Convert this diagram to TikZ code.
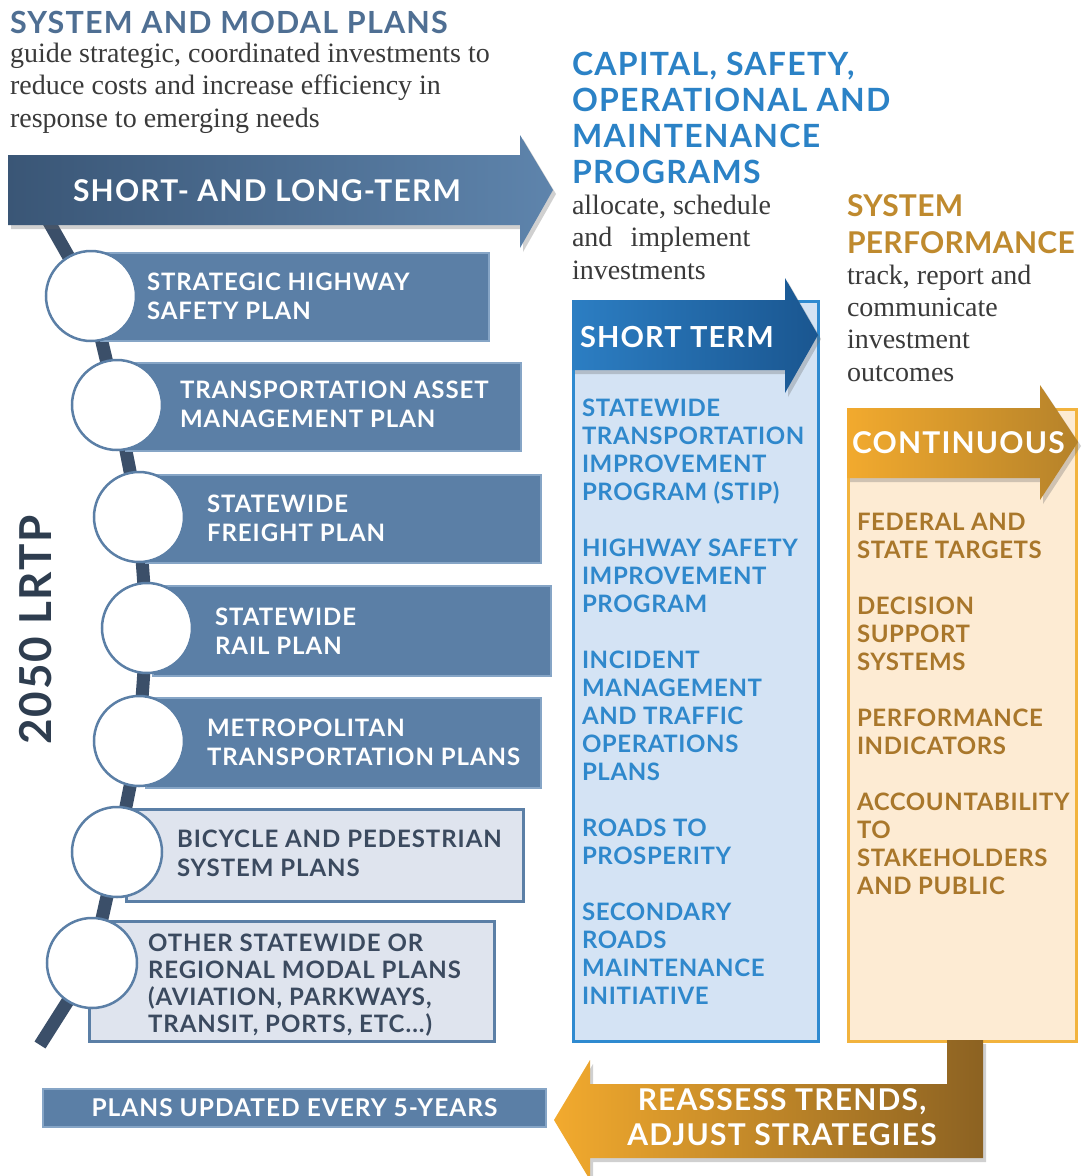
\documentclass[tikz,border=0pt]{standalone}
\usepackage{fontspec}
\setmainfont{Liberation Serif}
\newfontfamily\hdfont[LetterSpace=4]{Lato}
\newfontfamily\lsfont[LetterSpace=2.5]{Lato}
\newfontfamily\tightfont[LetterSpace=1]{Lato}
\usetikzlibrary{shadows}

\definecolor{slate}{HTML}{4F6F93}
\definecolor{bartxt}{HTML}{3B4A5F}
\definecolor{barfill}{HTML}{5B7FA6}
\definecolor{barline}{HTML}{86A5C6}
\definecolor{lightbar}{HTML}{DFE4EE}
\definecolor{timeline}{HTML}{3B4F69}
\definecolor{arrowdark}{HTML}{3A5676}
\definecolor{arrowlight}{HTML}{5E84AC}
\definecolor{capblue}{HTML}{2B82C6}
\definecolor{listblue}{HTML}{2F88CC}
\definecolor{bluebox}{HTML}{D4E3F4}
\definecolor{blueline}{HTML}{2F8AD0}
\definecolor{stleft}{HTML}{2C7EC3}
\definecolor{stright}{HTML}{1A5690}
\definecolor{goldtitle}{HTML}{BF8A2E}
\definecolor{goldtext}{HTML}{A9772B}
\definecolor{goldbox}{HTML}{FDEBD3}
\definecolor{goldline}{HTML}{F2B33D}
\definecolor{orleft}{HTML}{F2AA2E}
\definecolor{orright}{HTML}{B5822A}
\definecolor{brownend}{HTML}{8C6222}
\definecolor{bodytext}{HTML}{3A3A3A}
\definecolor{lrtpcol}{HTML}{2E3D4F}

\newcommand\fTitle{\hdfont\bfseries\fontsize{32}{36}\selectfont}
\newcommand\fBody{\fontsize{28}{32.3}\selectfont}
\newcommand\fBar{\hdfont\bfseries\fontsize{24}{29}\selectfont}
\newcommand\fList{\lsfont\bfseries\fontsize{24}{28}\selectfont}
\newcommand\fArrow{\hdfont\bfseries\fontsize{30}{35}\selectfont}

% multi-line text nodes are anchored on the baseline of their last line
\tikzset{
  txt/.style={inner sep=0pt, outer sep=0pt, anchor=base west, align=left},
  barbox/.style={draw=barline, fill=barfill, line width=2pt, inner sep=0pt, anchor=north west},
  lightbox/.style={draw=barfill, fill=lightbar, line width=2.5pt, inner sep=0pt, anchor=north west},
  ring/.style={circle, draw=barfill, fill=white, line width=2.5pt, minimum size=90pt, inner sep=0pt},
  shad/.style={drop shadow={opacity=0.3, shadow xshift=3pt, shadow yshift=-4pt, fill=black!60}},
}

\begin{document}
\begin{tikzpicture}[x=1pt,y=-1pt]
\useasboundingbox[fill=white] (0,0) rectangle (1083,1176);

% ---------- left column: system and modal plans ----------
\node[txt, text=slate, font=\hdfont\bfseries\fontsize{30.5}{36}\selectfont] (sysT) at (10,33) {SYSTEM AND MODAL PLANS};
\node[txt, text=bodytext, font=\fBody] (sysB) at (10,127)
  {guide strategic, coordinated investments to\\reduce costs and increase efficiency in\\response to emerging needs};

% timeline points
\coordinate (tlstart) at (45,215);
\coordinate (p1) at (91,296);
\coordinate (p2) at (117,405);
\coordinate (p3) at (139,517);
\coordinate (p4) at (147,628);
\coordinate (p5) at (139,741);
\coordinate (p6) at (117,852);
\coordinate (p7) at (92,963);
\coordinate (tlend) at (40,1045);
\draw[timeline, line width=13pt] (tlstart) -- (p1) -- (p2) -- (p3) -- (p4) -- (p5) -- (p6) -- (p7) -- (tlend);

% plan bars
\node[barbox, minimum width=388pt, minimum height=88pt] (b1) at (100,252) {};
\node[barbox, minimum width=395pt, minimum height=88pt] (b2) at (125,362) {};
\node[barbox, minimum width=395pt, minimum height=88pt] (b3) at (145,474) {};
\node[barbox, minimum width=398pt, minimum height=90pt] (b4) at (152,585) {};
\node[barbox, minimum width=395pt, minimum height=90pt] (b5) at (145,697) {};
\node[lightbox, minimum width=397pt, minimum height=92pt] (b6) at (125,808) {};
\node[lightbox, minimum width=405pt, minimum height=120pt] (b7) at (88,920) {};

\foreach \i in {1,...,7} { \node[ring] (c\i) at (p\i) {}; }

\node[txt, text=white, font=\fBar] (t1) at (147,319) {STRATEGIC HIGHWAY\\SAFETY PLAN};
\node[txt, text=white, font=\fBar] (t2) at (180,427) {TRANSPORTATION ASSET\\MANAGEMENT PLAN};
\node[txt, text=white, font=\fBar] (t3) at (207,541) {STATEWIDE\\FREIGHT PLAN};
\node[txt, text=white, font=\fBar] (t4) at (215,654) {STATEWIDE\\RAIL PLAN};
\node[txt, text=white, font=\fBar] (t5) at (207,765) {METROPOLITAN\\TRANSPORTATION PLANS};
\node[txt, text=bartxt, font=\fBar] (t6) at (177,876) {BICYCLE AND PEDESTRIAN\\SYSTEM PLANS};
\node[txt, text=bartxt, font=\hdfont\bfseries\fontsize{24}{27}\selectfont] (t7) at (148,1032)
  {OTHER STATEWIDE OR\\REGIONAL MODAL PLANS\\(AVIATION, PARKWAYS,\\TRANSIT, PORTS, ETC...)};

% big short- and long-term arrow
\path[shad, left color=arrowdark, right color=arrowlight]
  (8,155) -- (520,155) -- (520,135) -- (553,190) -- (520,248) -- (520,225) -- (8,225) -- cycle;
\node[txt, text=white, font=\fArrow] (slt) at (73,201) {SHORT- AND LONG-TERM};

\node[rotate=90, text=lrtpcol, font=\hdfont\bfseries\fontsize{44}{44}\selectfont, inner sep=0pt] (lrtp) at (36,630) {2050 LRTP};

% plans updated bar
\node[draw=barline, fill=barfill, line width=2pt, minimum width=503pt, minimum height=38pt, inner sep=0pt, anchor=north west] (upd) at (42,1088) {};
\node[text=white, font=\hdfont\bfseries\fontsize{24.5}{24.5}\selectfont, inner sep=0pt] (updT) at (upd.center) {PLANS UPDATED EVERY 5-YEARS};

% ---------- middle column: programs ----------
\node[txt, text=capblue, font=\fTitle] (capT) at (572,183)
  {CAPITAL, SAFETY,\\OPERATIONAL AND\\MAINTENANCE\\PROGRAMS};
\node[txt, text=bodytext, font=\fBody] (capB) at (572,279)
  {allocate, schedule\\and\hspace{0.4em} implement\\investments};
\node[draw=blueline, fill=bluebox, line width=3pt, minimum width=245pt, minimum height=740pt, inner sep=0pt, anchor=north west] (bbox) at (572,300) {};
\path[shad, left color=stleft, right color=stright]
  (572,300) -- (785,300) -- (785,278) -- (818,335) -- (785,393) -- (785,370) -- (572,370) -- cycle;
\node[txt, text=white, font=\hdfont\bfseries\fontsize{29}{29}\selectfont] (stT) at (580,347) {SHORT TERM};
\node[txt, text=listblue, font=\fList] (stL) at (582,1004)
  {STATEWIDE\\TRANSPORTATION\\IMPROVEMENT\\PROGRAM (STIP)\\[28pt]
   HIGHWAY SAFETY\\IMPROVEMENT\\PROGRAM\\[28pt]
   INCIDENT\\MANAGEMENT\\AND TRAFFIC\\OPERATIONS\\PLANS\\[28pt]
   ROADS TO\\PROSPERITY\\[28pt]
   SECONDARY\\ROADS\\MAINTENANCE\\INITIATIVE};

% ---------- right column: system performance ----------
\node[txt, text=goldtitle, font=\tightfont\bfseries\fontsize{30}{37}\selectfont] (perfT) at (847,253) {SYSTEM\\PERFORMANCE};
\node[txt, text=bodytext, font=\fBody] (perfB) at (847,381)
  {track, report and\\communicate\\investment\\outcomes};
\node[draw=goldline, fill=goldbox, line width=3pt, minimum width=228pt, minimum height=632pt, inner sep=0pt, anchor=north west] (gbox) at (847,408) {};
\path[shad, left color=orleft, right color=orright]
  (847,408) -- (1040,408) -- (1040,385) -- (1078,442) -- (1040,500) -- (1040,478) -- (847,478) -- cycle;
\node[txt, text=white, font=\hdfont\bfseries\fontsize{30}{30}\selectfont] (contT) at (852,453) {CONTINUOUS};
\node[txt, text=goldtext, font=\fList] (contL) at (857,894)
  {FEDERAL AND\\STATE TARGETS\\[28pt]
   DECISION\\SUPPORT\\SYSTEMS\\[28pt]
   PERFORMANCE\\INDICATORS\\[28pt]
   ACCOUNTABILITY\\TO\\STAKEHOLDERS\\AND PUBLIC};

% ---------- feedback arrow ----------
\path[shad, left color=orleft, right color=brownend]
  (983,1040) -- (983,1158) -- (590,1158) -- (590,1180) -- (554,1120)
  -- (590,1060) -- (590,1084) -- (947,1084) -- (947,1040) -- cycle;
\node[text=white, font=\hdfont\bfseries\fontsize{30}{35}\selectfont, align=center, inner sep=0pt] (reT) at (782,1117)
  {REASSESS TRENDS,\\ADJUST STRATEGIES};
\end{tikzpicture}
\end{document}
